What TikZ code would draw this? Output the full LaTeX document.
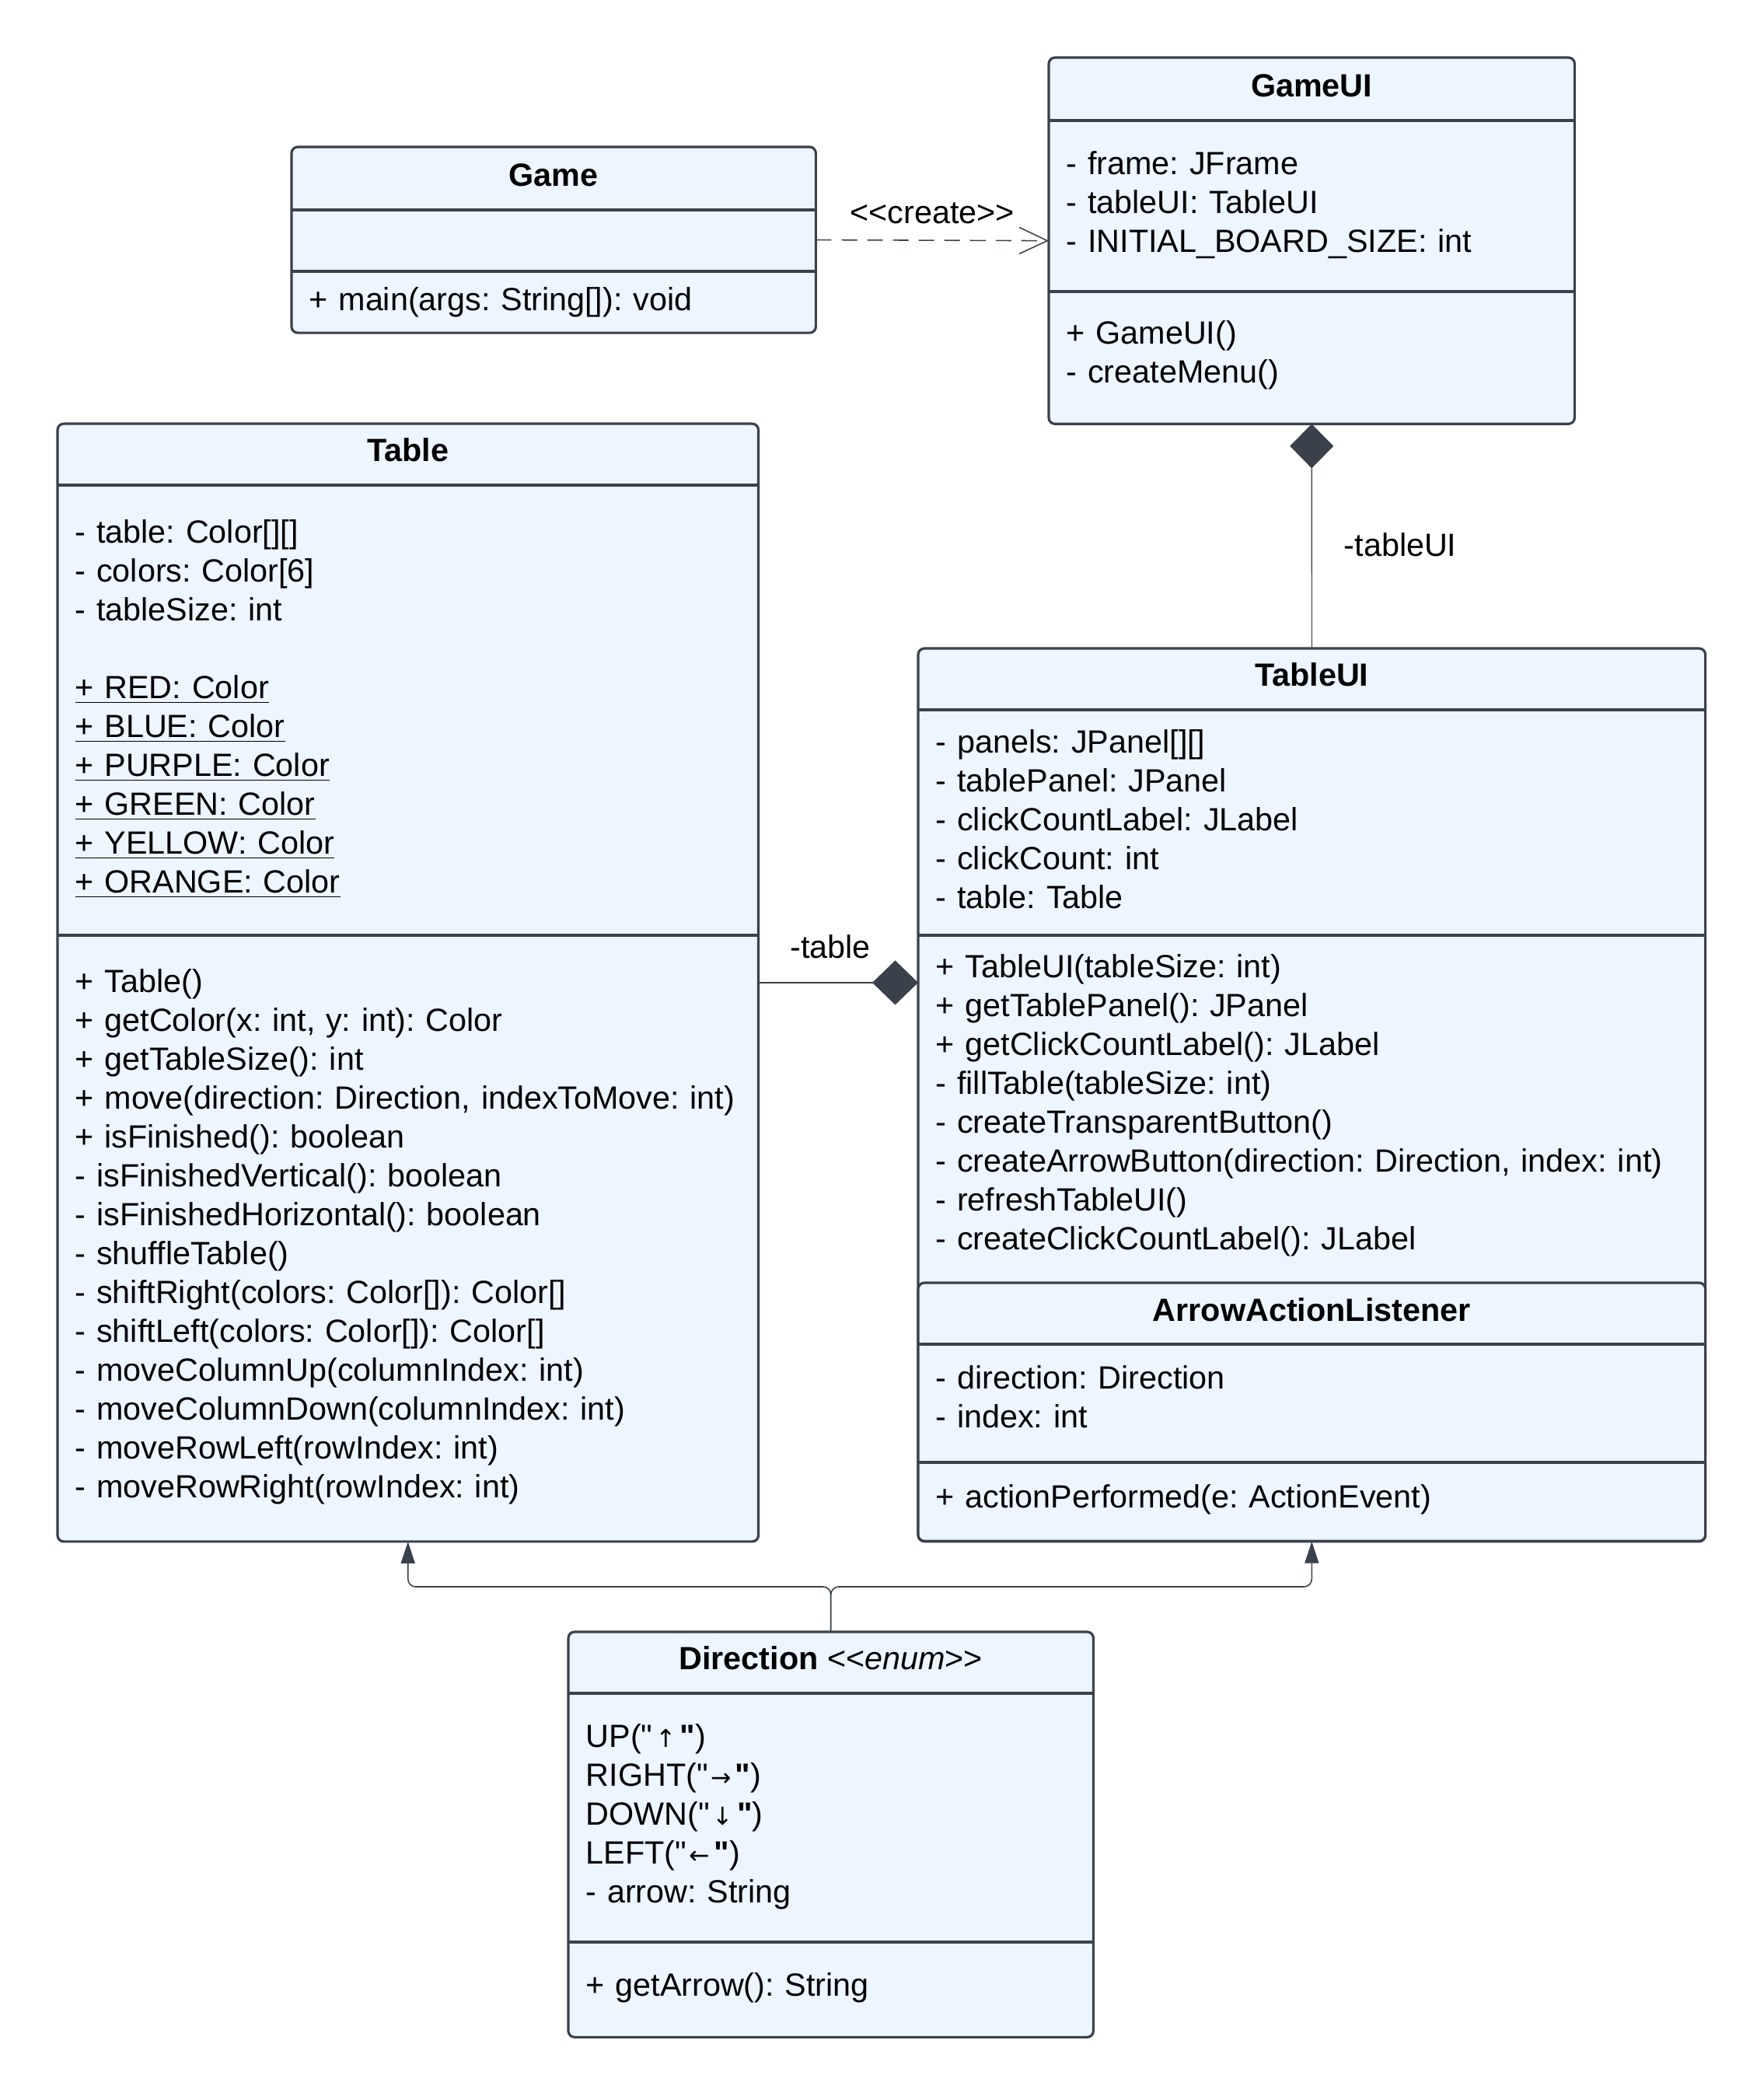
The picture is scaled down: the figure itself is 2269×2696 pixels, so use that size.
\documentclass[tikz,border=0pt]{standalone}
\usepackage{fontspec}
\setmainfont{Liberation Sans}[Ligatures=TeXOff]
\newfontfamily\arrowfont{DejaVu Sans}
\usepackage{tikz}
\usetikzlibrary{arrows.meta}
\definecolor{boxfill}{RGB}{237,245,255}
\definecolor{boxline}{RGB}{58,65,74}
\newcommand{\umlfont}{\fontsize{11.75}{14.23}\selectfont\frenchspacing}
\newcommand{\dirsym}[1]{\kern1pt{\arrowfont\fontsize{9}{9}\selectfont #1}\kern1.5pt}

\begin{document}
\begin{tikzpicture}[x=0.01cm, y=-0.01cm, font=\umlfont,
    classbox/.style={draw=boxline, fill=boxfill, line width=0.9pt,
      rounded corners=0.08cm, anchor=north west, inner sep=0pt, outer sep=0pt},
    sepline/.style={draw=boxline, line width=0.9pt},
    classname/.style={anchor=base, inner sep=0pt, font=\umlfont\bfseries},
    members/.style={anchor=base west, inner sep=0pt, align=left, text width=10cm},
    conn/.style={draw=boxline, line width=0.45pt},
    lbl/.style={inner sep=0pt, anchor=base}]
    \useasboundingbox (0,0) rectangle (2269,2696);

    % Game
    \node[classbox, minimum width=6.74cm, minimum height=2.39cm] (game) at (375,189) {};
    \draw[sepline] (game.west |- 0,270) -- (game.east |- 0,270);
    \draw[sepline] (game.west |- 0,349) -- (game.east |- 0,349);
    \node[classname] (gamename) at (game.center |- 0,239) {Game};
    \node[members] (gameops) at (397,399) {+ main(args: String[]): void};

    % GameUI
    \node[classbox, minimum width=6.76cm, minimum height=4.71cm] (gameui) at (1349,74) {};
    \draw[sepline] (gameui.west |- 0,155) -- (gameui.east |- 0,155);
    \draw[sepline] (gameui.west |- 0,375) -- (gameui.east |- 0,375);
    \node[classname] (gameuiname) at (gameui.center |- 0,124) {GameUI};
    \node[members] (gameuiattrs) at (1371,224) {- frame: JFrame\\
        - tableUI: TableUI\\
        - INITIAL\_BOARD\_SIZE: int};
    \node[members] (gameuiops) at (1371,442) {+ GameUI()\\
        - createMenu()};

    % Table
    \node[classbox, minimum width=9.01cm, minimum height=14.37cm] (table) at (74,545) {};
    \draw[sepline] (table.west |- 0,624) -- (table.east |- 0,624);
    \draw[sepline] (table.west |- 0,1203) -- (table.east |- 0,1203);
    \node[classname] (tablename) at (table.center |- 0,593) {Table};
    \node[members] (tableattrs) at (96,698) {- table: Color[][]\\
        - colors: Color[6]\\
        - tableSize: int\\[\baselineskip]
        \underline{+ RED: Color}\\
        \underline{+ BLUE: Color}\\
        \underline{+ PURPLE: Color}\\
        \underline{+ GREEN: Color}\\
        \underline{+ YELLOW: Color}\\
        \underline{+ ORANGE: Color}};
    \node[members] (tableops) at (96,1276) {+ Table()\\
        + getColor(x: int, y: int): Color\\
        + getTableSize(): int\\
        + move(direction: Direction, indexToMove: int)\\
        + isFinished(): boolean\\
        - isFinishedVertical(): boolean\\
        - isFinishedHorizontal(): boolean\\
        - shuffleTable()\\
        - shiftRight(colors: Color[]): Color[]\\
        - shiftLeft(colors: Color[]): Color[]\\
        - moveColumnUp(columnIndex: int)\\
        - moveColumnDown(columnIndex: int)\\
        - moveRowLeft(rowIndex: int)\\
        - moveRowRight(rowIndex: int)};

    % TableUI
    \node[classbox, minimum width=10.12cm, minimum height=11.48cm] (tableui) at (1181,834) {};
    \draw[sepline] (tableui.west |- 0,913) -- (tableui.east |- 0,913);
    \draw[sepline] (tableui.west |- 0,1203) -- (tableui.east |- 0,1203);
    \node[classname] (tableuiname) at (tableui.center |- 0,882) {TableUI};
    \node[members] (tableuiattrs) at (1203,968) {- panels: JPanel[][]\\
        - tablePanel: JPanel\\
        - clickCountLabel: JLabel\\
        - clickCount: int\\
        - table: Table};
    \node[members] (tableuiops) at (1203,1257) {+ TableUI(tableSize: int)\\
        + getTablePanel(): JPanel\\
        + getClickCountLabel(): JLabel\\
        - fillTable(tableSize: int)\\
        - createTransparentButton()\\
        - createArrowButton(direction: Direction, index: int)\\
        - refreshTableUI()\\
        - createClickCountLabel(): JLabel};

    % ArrowActionListener (inner class)
    \node[classbox, minimum width=10.12cm, minimum height=3.32cm] (listener) at (1181,1650) {};
    \draw[sepline] (listener.west |- 0,1729) -- (listener.east |- 0,1729);
    \draw[sepline] (listener.west |- 0,1881) -- (listener.east |- 0,1881);
    \node[classname] (listenername) at (listener.center |- 0,1699) {ArrowActionListener};
    \node[members] (listenerattrs) at (1203,1786) {- direction: Direction\\
        - index: int};
    \node[members] (listenerops) at (1203,1939) {+ actionPerformed(e: ActionEvent)};

    % Direction
    \node[classbox, minimum width=6.75cm, minimum height=5.21cm] (direction) at (731,2099) {};
    \draw[sepline] (direction.west |- 0,2178) -- (direction.east |- 0,2178);
    \draw[sepline] (direction.west |- 0,2498) -- (direction.east |- 0,2498);
    \node[classname] (directionname) at (direction.center |- 0,2147)
        {Direction \textmd{<<\textit{enum}>>}};
    \node[members] (directionattrs) at (753,2247) {UP("\dirsym{↑}\textbf{"})\\
        RIGHT("\dirsym{→}\textbf{"})\\
        DOWN("\dirsym{↓}\textbf{"})\\
        LEFT("\dirsym{←}\textbf{"})\\
        - arrow: String};
    \node[members] (directionops) at (753,2567) {+ getArrow(): String};

    % Relations
    \draw[conn, dash pattern=on 5.7pt off 3.7pt, -{Straight Barb[length=0.36cm, width=0.34cm]}]
        (game.east) -- node[lbl, yshift=0.22cm] (createlbl) {<<create>>} (gameui.west);
    \draw[conn, line width=0.3pt, -{Diamond[length=0.57cm, width=0.56cm]}, fill=boxline]
        (tableui.north) -- node[lbl, anchor=base west, xshift=0.41cm, yshift=-0.26cm] (tableuilbl) {-tableUI} (gameui.south);
    \draw[conn, -{Diamond[length=0.59cm, width=0.57cm]}, fill=boxline]
        (table.east) -- node[lbl, pos=0.45, yshift=0.31cm] (tablelbl) {-table} (table.east -| tableui.west);
    \draw[conn, rounded corners=0.1cm, -{Triangle[length=0.28cm, width=0.18cm]}]
        (direction.north) -- ++(0,-58) -| (table.south);
    \draw[conn, rounded corners=0.1cm, -{Triangle[length=0.28cm, width=0.18cm]}]
        (direction.north) -- ++(0,-58) -| (tableui.south);
\end{tikzpicture}
\end{document}
